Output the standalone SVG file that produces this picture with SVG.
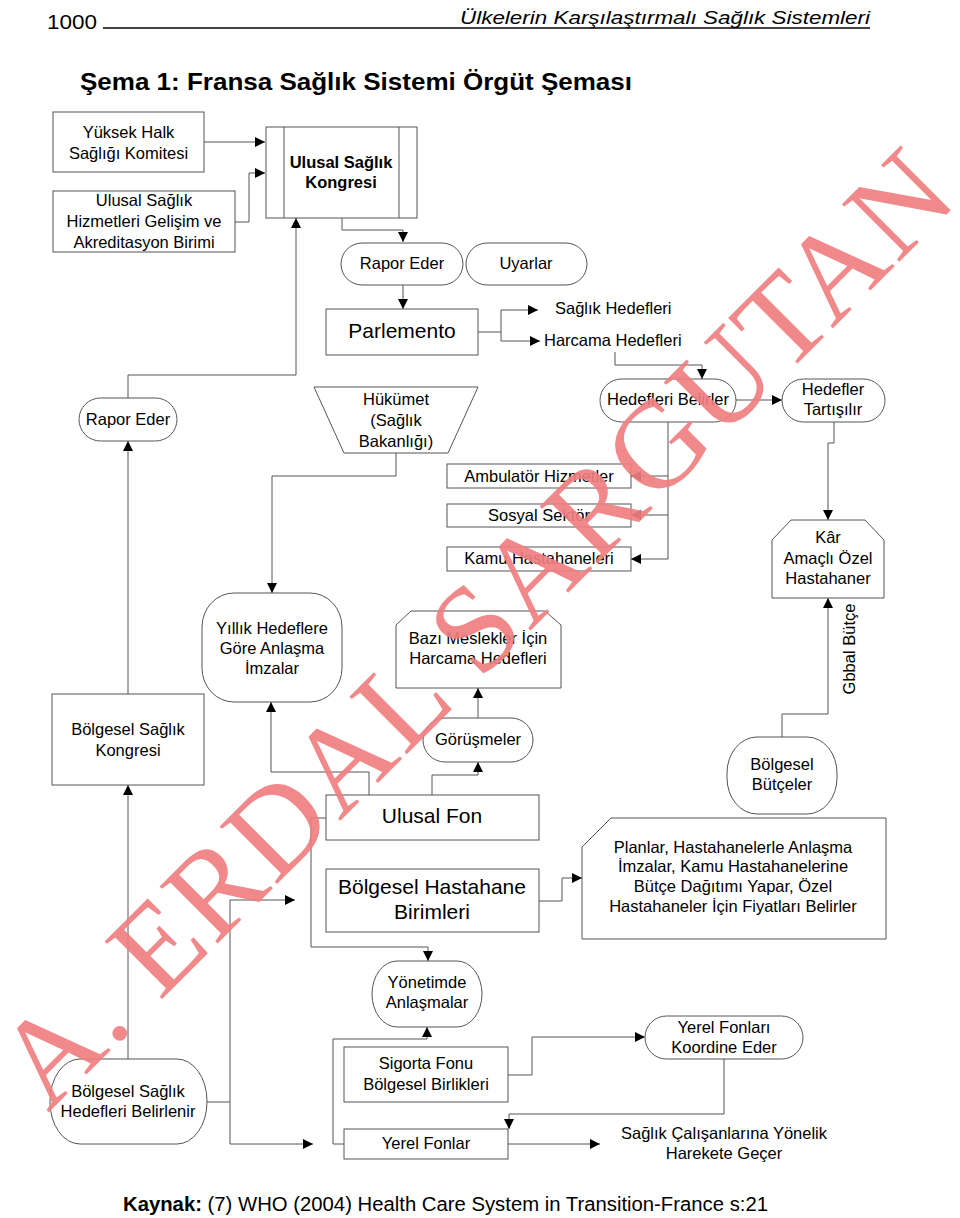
<svg xmlns="http://www.w3.org/2000/svg" width="960" height="1218" viewBox="0 0 960 1218">
<defs>
<marker id="ah" markerWidth="11" markerHeight="11" refX="10" refY="5" orient="auto" markerUnits="userSpaceOnUse">
<path d="M0,0 L10,5 L0,10 z" fill="#000"/>
</marker>
<style>
.n{fill:#fff;stroke:#555;stroke-width:1}
.t{font-family:"Liberation Sans",Arial,sans-serif;font-size:16.5px;fill:#000;text-anchor:middle}
.tl{font-family:"Liberation Sans",Arial,sans-serif;font-size:16.5px;fill:#000}
.big{font-size:21px}
.c{fill:none;stroke:#555;stroke-width:1;marker-end:url(#ah)}
</style>
</defs>
<rect width="960" height="1218" fill="#fff"/>

<g id="header">
<text x="47" y="29" style="font-family:'Liberation Sans',Arial,sans-serif;font-size:20px" textLength="50" lengthAdjust="spacingAndGlyphs">1000</text>
<line x1="103" y1="28" x2="870" y2="28" stroke="#000" stroke-width="1.5"/>
<text x="870" y="24" text-anchor="end" style="font-family:'Liberation Sans',Arial,sans-serif;font-size:19px;font-style:italic" textLength="410" lengthAdjust="spacingAndGlyphs">Ülkelerin Karşılaştırmalı Sağlık Sistemleri</text>
<text x="80" y="90" style="font-family:'Liberation Sans',Arial,sans-serif;font-size:23px;font-weight:bold" textLength="552" lengthAdjust="spacingAndGlyphs">Şema 1: Fransa Sağlık Sistemi Örgüt Şeması</text>
</g>

<g id="connectors">
<path class="c" d="M204,142 H265"/>
<path class="c" d="M235,222 H249 V173 H265"/>
<path class="c" d="M342,218 V230 H403 V242"/>
<path class="c" d="M403,285 V309"/>
<path class="c" d="M478,332 H501 V310 H538"/>
<path class="c" d="M501,332 V341 H540"/>
<path class="c" d="M615,352 V365 H702 V379"/>
<path class="c" d="M736,400 H782"/>
<path class="c" d="M834,422 V443 H828 V520"/>
<path class="c" d="M668,422 V559 H631"/>
<path class="c" d="M668,476 H631"/>
<path class="c" d="M668,515 H631"/>
<path class="c" d="M128,398 V375 H296 V218"/>
<path class="c" d="M396,453 V476 H272 V593"/>
<path class="c" d="M128,694 V441"/>
<path class="c" d="M369,795 V772 H271 V702"/>
<path class="c" d="M432,795 V775 H478 V762"/>
<path class="c" d="M478,718 V688"/>
<path class="c" d="M326,818 H311 V947 H428 V961"/>
<path class="c" d="M539,901 H562 V878 H582"/>
<path class="c" d="M782,737 V714 H828 V598"/>
<path class="c" d="M128,1059 V785"/>
<path class="c" d="M207,1102 H230 V900 H295"/>
<path class="c" d="M230,1102 V1144 H313"/>
<path class="c" d="M344,1144 H333 V1039 H427 V1027"/>
<path class="c" d="M508,1075 H532 V1037 H645"/>
<path class="c" d="M724,1059 V1114 H509 V1129"/>
<path class="c" d="M508,1144 H600"/>
</g>

<g id="yuksek">
<rect class="n" x="53" y="112" width="151" height="60"/>
<text class="t" x="128.5" y="138">Yüksek Halk</text>
<text class="t" x="128.5" y="159">Sağlığı Komitesi</text>
</g>
<g id="ulusal-hizmet">
<rect class="n" x="53" y="191" width="182" height="61"/>
<text class="t" x="144" y="206">Ulusal Sağlık</text>
<text class="t" x="144" y="227">Hizmetleri Gelişim ve</text>
<text class="t" x="144" y="248">Akreditasyon Birimi</text>
</g>
<g id="kongre">
<rect class="n" x="266" y="127" width="151" height="91"/>
<line x1="284" y1="127" x2="284" y2="218" stroke="#555"/>
<line x1="399" y1="127" x2="399" y2="218" stroke="#555"/>
<text class="t" x="341" y="168" font-weight="bold">Ulusal Sağlık</text>
<text class="t" x="341" y="188" font-weight="bold">Kongresi</text>
</g>
<g id="rapor-eder-1">
<rect class="n" x="341" y="243" width="122" height="42" rx="21"/>
<text class="t" x="402" y="269">Rapor Eder</text>
</g>
<g id="uyarlar">
<rect class="n" x="466" y="243" width="121" height="42" rx="21"/>
<text class="t" x="526" y="269">Uyarlar</text>
</g>
<g id="parlemento">
<rect class="n" x="326" y="309" width="152" height="46"/>
<text class="t big" x="402" y="338">Parlemento</text>
</g>
<g id="saglik-hedefleri">
<text class="tl" x="555" y="314">Sağlık Hedefleri</text>
</g>
<g id="harcama-hedefleri">
<text class="tl" x="544" y="346">Harcama Hedefleri</text>
</g>
<g id="rapor-eder-2">
<rect class="n" x="79" y="398" width="98" height="43" rx="21.5"/>
<text class="t" x="128" y="425">Rapor Eder</text>
</g>
<g id="hukumet">
<polygon class="n" points="314,387 478,387 448,453 344,453"/>
<text class="t" x="396" y="405">Hükümet</text>
<text class="t" x="396" y="426">(Sağlık</text>
<text class="t" x="396" y="447">Bakanlığı)</text>
</g>
<g id="hedefleri-belirler">
<rect class="n" x="600" y="379" width="136" height="43" rx="21.5"/>
<text class="t" x="668" y="405">Hedefleri Belirler</text>
</g>
<g id="hedefler-tartisilir">
<rect class="n" x="782" y="379" width="103" height="43" rx="21.5"/>
<text class="t" x="833" y="395">Hedefler</text>
<text class="t" x="833" y="415">Tartışılır</text>
</g>
<g id="ambulator">
<rect class="n" x="447" y="464" width="184" height="24"/>
<text class="t" x="539" y="482">Ambulatör Hizmetler</text>
</g>
<g id="sosyal">
<rect class="n" x="447" y="504" width="184" height="23"/>
<text class="t" x="539" y="521">Sosyal Sektör</text>
</g>
<g id="kamu">
<rect class="n" x="447" y="547" width="184" height="24"/>
<text class="t" x="539" y="564">Kamu Hastahaneleri</text>
</g>
<g id="kar">
<polygon class="n" points="791,520 865,520 884,540 884,598 772,598 772,540"/>
<text class="t" x="828" y="543">Kâr</text>
<text class="t" x="828" y="564">Amaçlı Özel</text>
<text class="t" x="828" y="584">Hastahaner</text>
</g>
<g id="yillik">
<rect class="n" x="202" y="593" width="140" height="109" rx="32" ry="34"/>
<text class="t" x="272" y="634">Yıllık Hedeflere</text>
<text class="t" x="272" y="654">Göre Anlaşma</text>
<text class="t" x="272" y="674">İmzalar</text>
</g>
<g id="bazi">
<polygon class="n" points="411,611 545,611 561,625 561,688 396,688 396,625"/>
<text class="t" x="478" y="644">Bazı Meslekler İçin</text>
<text class="t" x="478" y="664">Harcama Hedefleri</text>
</g>
<g id="gbbal-butce">
<text class="t" transform="translate(855,649) rotate(-90)">Gbbal Bütçe</text>
</g>
<g id="bolgesel-kongre">
<rect class="n" x="52" y="694" width="152" height="91"/>
<text class="t" x="128" y="735">Bölgesel Sağlık</text>
<text class="t" x="128" y="756">Kongresi</text>
</g>
<g id="gorusmeler">
<rect class="n" x="423" y="718" width="110" height="44" rx="22"/>
<text class="t" x="478" y="745">Görüşmeler</text>
</g>
<g id="bolgesel-butceler">
<rect class="n" x="727" y="737" width="110" height="77" rx="30" ry="36"/>
<text class="t" x="782" y="770">Bölgesel</text>
<text class="t" x="782" y="790">Bütçeler</text>
</g>
<g id="ulusal-fon">
<rect class="n" x="326" y="795" width="213" height="45"/>
<text class="t big" x="432" y="823">Ulusal Fon</text>
</g>
<g id="planlar">
<polygon class="n" points="611,818 886,818 886,939 582,939 582,847"/>
<text class="t" x="733" y="853">Planlar, Hastahanelerle Anlaşma</text>
<text class="t" x="733" y="872">İmzalar, Kamu Hastahanelerine</text>
<text class="t" x="733" y="892">Bütçe Dağıtımı Yapar, Özel</text>
<text class="t" x="733" y="912">Hastahaneler İçin Fiyatları Belirler</text>
</g>
<g id="bolgesel-hastahane">
<rect class="n" x="326" y="869" width="213" height="63"/>
<text class="t big" x="432" y="894">Bölgesel Hastahane</text>
<text class="t big" x="432" y="919">Birimleri</text>
</g>
<g id="yonetimde">
<rect class="n" x="372" y="961" width="110" height="66" rx="25" ry="33"/>
<text class="t" x="427" y="988">Yönetimde</text>
<text class="t" x="427" y="1008">Anlaşmalar</text>
</g>
<g id="yerel-koordine">
<rect class="n" x="645" y="1016" width="158" height="43" rx="21.5"/>
<text class="t" x="724" y="1033">Yerel Fonları</text>
<text class="t" x="724" y="1053">Koordine Eder</text>
</g>
<g id="sigorta">
<rect class="n" x="344" y="1047" width="164" height="55"/>
<text class="t" x="426" y="1069">Sigorta Fonu</text>
<text class="t" x="426" y="1090">Bölgesel Birlikleri</text>
</g>
<g id="bolgesel-hedefler">
<rect class="n" x="50" y="1059" width="157" height="85" rx="30" ry="42"/>
<text class="t" x="128" y="1097">Bölgesel Sağlık</text>
<text class="t" x="128" y="1117">Hedefleri Belirlenir</text>
</g>
<g id="yerel-fonlar">
<rect class="n" x="344" y="1129" width="164" height="30"/>
<text class="t" x="426" y="1149">Yerel Fonlar</text>
</g>
<g id="saglik-calisanlari">
<text class="t" x="724" y="1139">Sağlık Çalışanlarına Yönelik</text>
<text class="t" x="724" y="1159">Harekete Geçer</text>
</g>

<g id="footer">
<text x="123" y="1211" style="font-family:'Liberation Sans',Arial,sans-serif;font-size:20px" textLength="645" lengthAdjust="spacingAndGlyphs"><tspan font-weight="bold">Kaynak:</tspan> (7) WHO (2004) Health Care System in Transition-France s:21</text>
</g>

<g id="watermark">
<text transform="translate(48,1113) rotate(-45)" style="font-family:'Liberation Serif','Times New Roman',serif;font-size:124px;fill:#f07e80;fill-opacity:0.92" textLength="1290" lengthAdjust="spacing">A. ERDAL SARGUTAN</text>
</g>
</svg>
